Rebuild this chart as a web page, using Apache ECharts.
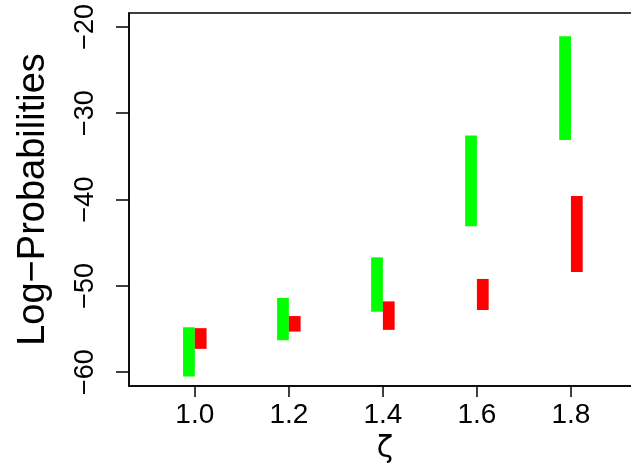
<!DOCTYPE html>
<html>
<head>
<meta charset="utf-8">
<script src="https://cdn.jsdelivr.net/npm/echarts@6/dist/echarts.min.js"></script>
<style>html,body{margin:0;padding:0;background:#fff;overflow:hidden;}#c{width:631px;height:464px;}</style>
</head>
<body>
<div id="c"></div>
<script>
const zeta = [1.0, 1.2, 1.4, 1.6, 1.8];
const greenLow  = [-60.5, -56.3, -53.0, -43.1, -33.1];
const greenHigh = [-54.8, -51.4, -46.7, -32.6, -21.1];
const redLow    = [-57.3, -55.3, -55.1, -52.8, -48.4];
const redHigh   = [-54.9, -53.5, -51.8, -49.2, -39.6];
const xTicks = [1.0, 1.2, 1.4, 1.6, 1.8];
const yTicks = [-60, -50, -40, -30, -20];

const FONT = '"Liberation Sans", Arial, Helvetica, sans-serif';
const chart = echarts.init(document.getElementById('c'), null, {renderer: 'canvas'});

function barSeries(name, low, high, color, side) {
  const W = 0.025;
  return {
    type: 'custom',
    name: name,
    data: zeta.map((z, i) => [z, low[i], high[i]]),
    encode: {x: 0, y: [1, 2]},
    renderItem: function (params, api) {
      const x = api.value(0);
      const x0 = side < 0 ? x - W : x;
      const x1 = side < 0 ? x : x + W;
      const p0 = api.coord([x0, api.value(2)]);
      const p1 = api.coord([x1, api.value(1)]);
      return {
        type: 'rect',
        shape: {x: p0[0], y: p0[1], width: p1[0] - p0[0], height: p1[1] - p0[1]},
        style: {fill: color}
      };
    }
  };
}

chart.setOption({
  animation: false,
  backgroundColor: '#fff',
  grid: {left: 129, top: 13, right: -10, bottom: 78, containLabel: false, outerBoundsMode: 'none',
         show: true, borderColor: '#000', borderWidth: 1.5, backgroundColor: 'transparent'},
  xAxis: {
    type: 'value', min: 0.86, max: 1.949,
    name: 'ζ', nameLocation: 'middle', nameGap: 41,
    nameTextStyle: {fontSize: 30, color: '#000', fontFamily: '"DejaVu Sans", sans-serif'},
    axisLine: {show: true, onZero: false, lineStyle: {color: '#000', width: 1.5}},
    axisTick: {show: true, length: 11, inside: false, customValues: xTicks, lineStyle: {color: '#000', width: 1.5}},
    axisLabel: {customValues: xTicks, margin: 15, fontSize: 28, color: '#000', fontFamily: FONT, formatter: v => Number(v).toFixed(1)},
    splitLine: {show: false}
  },
  yAxis: {
    type: 'value', min: -61.6, max: -18.4,
    name: 'Log\u2212Probabilities', nameLocation: 'middle', nameGap: 76, nameRotate: 90,
    nameTextStyle: {fontSize: 38, color: '#000', fontFamily: FONT},
    axisLine: {show: true, onZero: false, lineStyle: {color: '#000', width: 1.5}},
    axisTick: {show: true, length: 13, inside: false, customValues: yTicks, lineStyle: {color: '#000', width: 1.5}},
    axisLabel: {customValues: yTicks, rotate: 90, margin: 30, fontSize: 27, color: '#000', fontFamily: FONT, formatter: v => String(v).replace('-', '\u2212')},
    splitLine: {show: false}
  },
  series: [
    barSeries('green', greenLow, greenHigh, '#00ff00', -1),
    barSeries('red', redLow, redHigh, '#ff0000', 1)
  ]
});
</script>
</body>
</html>
